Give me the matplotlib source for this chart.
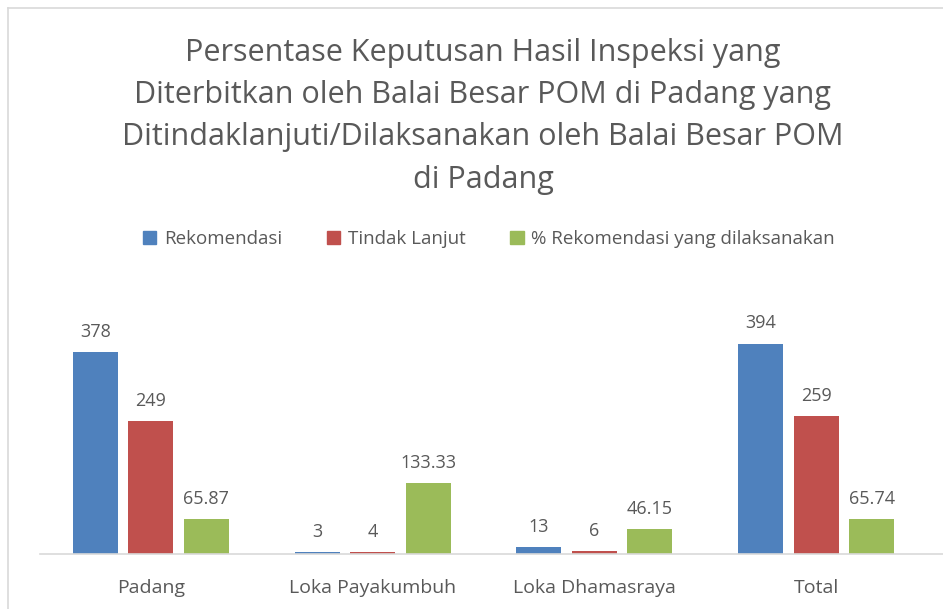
import numpy as np
import matplotlib.pyplot as plt
from matplotlib.lines import Line2D
from matplotlib.patches import Patch

plt.rcParams['font.family'] = ['Open Sans', 'DejaVu Sans']

# data
kategori = ['Padang', 'Loka Payakumbuh', 'Loka Dhamasraya', 'Total']
rekomendasi = [378, 3, 13, 394]
tindak_lanjut = [249, 4, 6, 259]
persen = [65.87, 133.33, 46.15, 65.74]
label_rek = ['378', '3', '13', '394']
label_tl = ['249', '4', '6', '259']
label_persen = ['65.87', '133.33', '46.15', '65.74']

seri = ['Rekomendasi', 'Tindak Lanjut', '% Rekomendasi yang dilaksanakan']
warna = ['#4F81BD', '#C0504D', '#9BBB59']
teks = '#595959'

fig = plt.figure(figsize=(9.43, 6.09), dpi=100)
ax = fig.add_axes([40 / 943, 55 / 609, 903 / 943, 240.3 / 609])

x = np.arange(len(kategori))
lebar = 45 / 222
jarak = 55.5 / 222
for i, (nilai, lbl) in enumerate([(rekomendasi, label_rek), (tindak_lanjut, label_tl), (persen, label_persen)]):
    bars = ax.bar(x + (i - 1) * jarak, nilai, lebar, color=warna[i])
    ax.bar_label(bars, labels=lbl, padding=8, fontsize=13, color=teks)

ax.set_xlim(-0.5, (943 - 150) / 222)
ax.set_ylim(0, 450)
ax.set_xticks(x)
ax.set_xticklabels(kategori, fontsize=14, color=teks)
ax.tick_params(axis='x', length=0, pad=18)
ax.set_yticks([])
for s in ['top', 'right', 'left']:
    ax.spines[s].set_visible(False)
ax.spines['bottom'].set_color('#D9D9D9')
ax.spines['bottom'].set_linewidth(1.2)

fig.text(483 / 943, 1 - 38 / 609,
         'Persentase Keputusan Hasil Inspeksi yang\n'
         'Diterbitkan oleh Balai Besar POM di Padang yang\n'
         'Ditindaklanjuti/Dilaksanakan oleh Balai Besar POM\n'
         'di Padang',
         ha='center', va='top', fontsize=22, color=teks, linespacing=1.53)

handles = [Patch(color=c) for c in warna]
fig.legend(handles, seri, loc='center', bbox_to_anchor=(489 / 943, 1 - 239 / 609),
           ncol=3, frameon=False, fontsize=13.5, labelcolor=teks,
           handlelength=0.7, handleheight=0.7, handletextpad=0.4, columnspacing=2.4)

# bingkai
fig.add_artist(Line2D([8 / 943, 1], [1 - 8 / 609, 1 - 8 / 609], color='#D9D9D9', lw=1.2))
fig.add_artist(Line2D([8 / 943, 8 / 943], [0, 1 - 8 / 609], color='#D9D9D9', lw=1.2))

fig.savefig('out.png', dpi=100)
